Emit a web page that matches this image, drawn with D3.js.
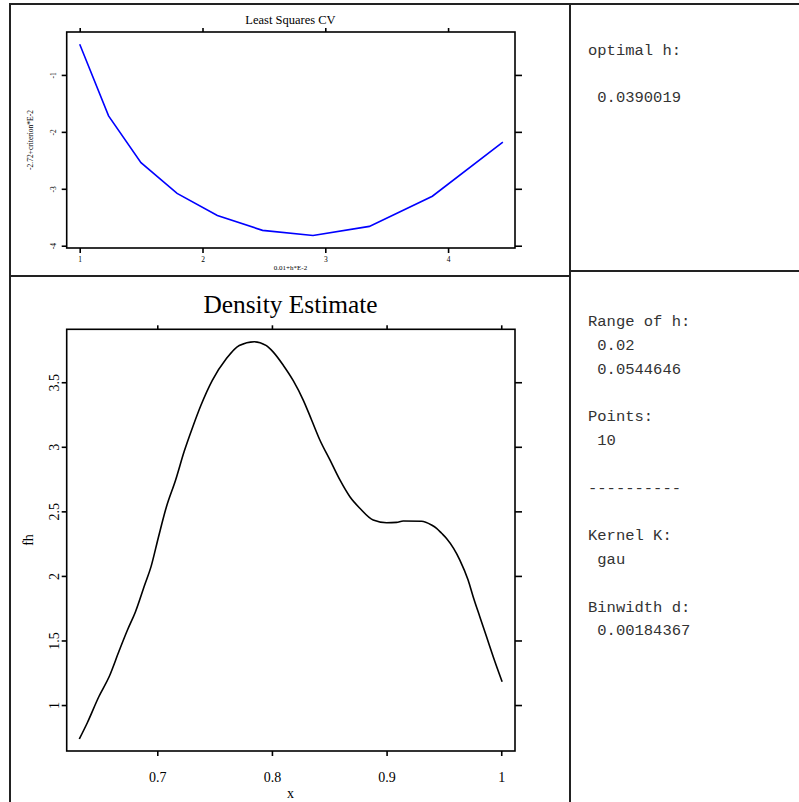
<!DOCTYPE html>
<html>
<head>
<meta charset="utf-8">
<script src="https://cdn.jsdelivr.net/npm/d3@7"></script>
<style>
  body { margin: 0; background: #fff; }
  svg text { font-family: "Liberation Serif", "Times New Roman", serif; fill: #000; }
  .mono { font-family: "Liberation Mono", "Courier New", monospace; font-size: 15.5px; fill: #333; }
  .domain { display: none; }
</style>
</head>
<body>
<div id="chart"></div>
<script>
const w = 799;
const h = 802;

// Least squares CV: h grid (scaled as 0.01+h*E-2) and criterion (-2.72+criterion*E-2)
const cvX = [1.0, 1.235, 1.499, 1.793, 2.121, 2.489, 2.900, 3.359, 3.872, 4.446];
const cvY = [-0.46, -1.72, -2.54, -3.08, -3.47, -3.73, -3.82, -3.66, -3.13, -2.18];
const cvXTicks = [1, 2, 3, 4];
const cvYTicks = [-4, -3, -2, -1];

// Density estimate
const densX = [0.632, 0.639, 0.649, 0.658, 0.667, 0.674, 0.681, 0.689, 0.6945, 0.701,
  0.708, 0.716, 0.7235, 0.731, 0.738, 0.748, 0.760, 0.7715, 0.7846, 0.7948,
  0.801, 0.810, 0.8186, 0.8273, 0.8346, 0.8418, 0.8506, 0.8593, 0.868, 0.8767,
  0.8883, 0.900, 0.9087, 0.9145, 0.9305, 0.9392, 0.9436, 0.948, 0.9523, 0.9639,
  0.9711, 0.9755, 0.9813, 0.9872, 0.993, 1.0008];
const densY = [0.737, 0.863, 1.064, 1.219, 1.426, 1.581, 1.723, 1.930, 2.070, 2.300,
  2.536, 2.743, 2.965, 3.156, 3.320, 3.515, 3.680, 3.785, 3.814, 3.785,
  3.735, 3.630, 3.512, 3.362, 3.208, 3.053, 2.898, 2.743, 2.613, 2.524,
  2.433, 2.412, 2.415, 2.425, 2.423, 2.394, 2.369, 2.330, 2.290, 2.123,
  1.968, 1.839, 1.684, 1.529, 1.374, 1.180];
const densXTicks = [0.7, 0.8, 0.9, 1];
const densXTickLabels = ["0.7", "0.8", "0.9", "1"];
const densYTicks = [1, 1.5, 2, 2.5, 3, 3.5];
const densYTickLabels = ["1", "1.5", "2", "2.5", "3", "3.5"];

// text panels
const topInfo = ["optimal h:", "", " 0.0390019"];
const bottomInfo = ["Range of h:", " 0.02", " 0.0544646", "", "Points:", " 10", "",
  "----------", "", "Kernel K:", " gau", "", "Binwidth d:", " 0.00184367"];

const svg = d3.select("#chart").append("svg")
  .attr("width", w).attr("height", h);

// window frames
const frameCol = "#222";
[[10, 4, 560, 272], [570, 4, 240, 267], [10, 276, 560, 540], [570, 271, 240, 545]]
  .forEach(f => {
    svg.append("rect").attr("x", f[0]).attr("y", f[1]).attr("width", f[2]).attr("height", f[3])
      .attr("fill", "none").attr("stroke", frameCol).attr("stroke-width", 2);
  });

function framePlot(x, y, opts) {
  const g = svg.append("g");
  const [x0, x1] = x.range();
  const [y0, y1] = y.range();
  g.append("rect").attr("x", x0).attr("y", y1).attr("width", x1 - x0).attr("height", y0 - y1)
    .attr("fill", "none").attr("stroke", "#000").attr("stroke-width", 1.6);

  const bottom = g.append("g").attr("transform", `translate(0,${y0})`)
    .call(d3.axisBottom(x).tickValues(opts.xTicks).tickSize(5).tickPadding(opts.xPad)
      .tickFormat((d, i) => opts.xLabels[i]));
  bottom.selectAll("text").style("font-size", opts.tickFont + "px");

  g.append("g").attr("transform", `translate(0,${y1})`)
    .call(d3.axisTop(x).tickValues(opts.xTicks).tickSize(4).tickFormat(""));

  const left = g.append("g").attr("transform", `translate(${x0},0)`)
    .call(d3.axisLeft(y).tickValues(opts.yTicks).tickSize(5).tickFormat((d, i) => opts.yLabels[i]));
  left.selectAll("text")
    .attr("x", null).attr("dy", "0.35em")
    .attr("text-anchor", "middle")
    .attr("transform", `translate(${-opts.yOff},0) rotate(-90)`)
    .style("font-size", opts.tickFont + "px");

  g.append("g").attr("transform", `translate(${x1},0)`)
    .call(d3.axisRight(y).tickValues(opts.yTicks).tickSize(7).tickFormat(""));

  g.selectAll(".tick line").attr("stroke", "#000").attr("stroke-width", 1.6);
  return g;
}

// ---- Least Squares CV ----
const cvXScale = d3.scaleLinear().domain([0.894, 4.545]).range([66.7, 515]);
const cvYScale = d3.scaleLinear().domain([-4.04, -0.246]).range([248, 32]);

framePlot(cvXScale, cvYScale, {
  xTicks: cvXTicks, xLabels: cvXTicks.map(String),
  yTicks: cvYTicks, yLabels: cvYTicks.map(String),
  tickFont: 7.5, xPad: 4, yOff: 13
});

svg.append("path")
  .datum(cvX.map((d, i) => [d, cvY[i]]))
  .attr("fill", "none").attr("stroke", "#0000ff").attr("stroke-width", 1.6)
  .attr("d", d3.line().x(d => cvXScale(d[0])).y(d => cvYScale(d[1])));

svg.append("text").attr("x", 290.5).attr("y", 24).attr("text-anchor", "middle")
  .style("font-size", "12.5px").text("Least Squares CV");
svg.append("text").attr("x", 290.5).attr("y", 270).attr("text-anchor", "middle")
  .style("font-size", "7px").text("0.01+h*E-2");
svg.append("text").attr("transform", "translate(33,140) rotate(-90)").attr("text-anchor", "middle")
  .style("font-size", "7.5px").text("-2.72+criterion*E-2");

// ---- Density Estimate ----
const dXScale = d3.scaleLinear().domain([0.621, 1.012]).range([66.7, 515]);
const dYScale = d3.scaleLinear().domain([0.644, 3.91]).range([751, 329.3]);

framePlot(dXScale, dYScale, {
  xTicks: densXTicks, xLabels: densXTickLabels,
  yTicks: densYTicks, yLabels: densYTickLabels,
  tickFont: 14, xPad: 16, yOff: 13
});

svg.append("path")
  .datum(densX.map((d, i) => [d, densY[i]]))
  .attr("fill", "none").attr("stroke", "#000").attr("stroke-width", 1.6)
  .attr("d", d3.line().curve(d3.curveMonotoneX).x(d => dXScale(d[0])).y(d => dYScale(d[1])));

svg.append("text").attr("x", 290.5).attr("y", 312.5).attr("text-anchor", "middle")
  .style("font-size", "25.4px").text("Density Estimate");
svg.append("text").attr("x", 290.5).attr("y", 798).attr("text-anchor", "middle")
  .style("font-size", "14px").text("x");
svg.append("text").attr("transform", "translate(33,540) rotate(-90)").attr("text-anchor", "middle")
  .style("font-size", "14px").text("fh");

// ---- info panels ----
svg.append("g").selectAll("text").data(topInfo).enter().append("text")
  .attr("class", "mono").style("white-space", "pre")
  .attr("x", 588).attr("y", (d, i) => 55 + i * 23.5).text(d => d);

svg.append("g").selectAll("text").data(bottomInfo).enter().append("text")
  .attr("class", "mono").style("white-space", "pre")
  .attr("x", 588).attr("y", (d, i) => 326 + i * 23.8).text(d => d);
</script>
</body>
</html>
